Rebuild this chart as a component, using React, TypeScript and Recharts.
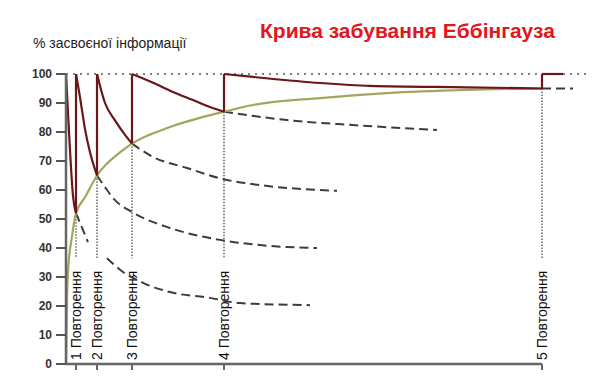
import { LineChart, Line, XAxis, YAxis, ReferenceLine } from "recharts";

type Pt = { x: number; y: number | null };

// x = умовний час, y = % засвоєної інформації
const REPS = [10, 31, 66, 158, 476];
const REP_LEVELS = [52, 65, 76, 87, 95];
const REP_LABELS = ["1 Повторення", "2 Повторення", "3 Повторення", "4 Повторення", "5 Повторення"];
const Y_TICKS = [0, 10, 20, 30, 40, 50, 60, 70, 80, 90, 100];
const LABEL_FLOOR = 36.5;

// зелена крива — накопичене запам'ятовування
const RETAINED: Pt[] = [
  { x: 0, y: 0 }, { x: 1, y: 22 }, { x: 2, y: 32 }, { x: 6, y: 44 }, { x: 10, y: 52 },
  { x: 19, y: 57.5 }, { x: 31, y: 65 }, { x: 56, y: 73.5 }, { x: 66, y: 76 },
  { x: 104, y: 81.7 }, { x: 158, y: 87 }, { x: 187, y: 89.3 }, { x: 254, y: 91.7 },
  { x: 321, y: 93.4 }, { x: 401, y: 94.5 }, { x: 476, y: 95 },
];

// червона крива — забування між повтореннями
const DECAY_0: Pt[] = [{ x: 0, y: 100 }, { x: 3, y: 80 }, { x: 7, y: 58 }, { x: 10, y: 52 }];
const DECAY_1: Pt[] = [{ x: 10, y: 100 }, { x: 14, y: 92 }, { x: 19, y: 81 }, { x: 24, y: 73 }, { x: 31, y: 65 }];
const DECAY_2: Pt[] = [{ x: 31, y: 100 }, { x: 39, y: 90 }, { x: 49, y: 84 }, { x: 59, y: 79 }, { x: 66, y: 76 }];
const DECAY_3: Pt[] = [{ x: 66, y: 100 }, { x: 87, y: 97 }, { x: 107, y: 93.8 }, { x: 127, y: 91 }, { x: 144, y: 88.6 }, { x: 158, y: 87 }];
const DECAY_4: Pt[] = [{ x: 158, y: 100 }, { x: 187, y: 99 }, { x: 254, y: 96.9 }, { x: 304, y: 95.9 }, { x: 401, y: 95.4 }, { x: 476, y: 95 }];
const DECAY_5: Pt[] = [{ x: 476, y: 100 }, { x: 497, y: 100 }];
const JUMPS: Pt[] = [
  { x: 10, y: 52 }, { x: 10, y: 100 }, { x: 20, y: null },
  { x: 31, y: 65 }, { x: 31, y: 100 }, { x: 40, y: null },
  { x: 66, y: 76 }, { x: 66, y: 100 }, { x: 80, y: null },
  { x: 158, y: 87 }, { x: 158, y: 100 }, { x: 200, y: null },
  { x: 476, y: 95 }, { x: 476, y: 100 },
];

// пунктир — забування без повторення
const FORGET_1: Pt[] = [
  { x: 10, y: 52 }, { x: 16, y: 47 }, { x: 22, y: 42 }, { x: 30, y: null },
  { x: 41, y: 36.5 }, { x: 56, y: 32 }, { x: 77, y: 28 }, { x: 104, y: 24.8 },
  { x: 144, y: 22.8 }, { x: 174, y: 21 }, { x: 244, y: 20.3 },
];
const FORGET_2: Pt[] = [
  { x: 31, y: 65 }, { x: 40, y: 60.5 }, { x: 49, y: 56.5 }, { x: 66, y: 52.4 },
  { x: 104, y: 46.9 }, { x: 154, y: 42.8 }, { x: 194, y: 41 }, { x: 251, y: 40 },
];
const FORGET_3: Pt[] = [
  { x: 66, y: 76 }, { x: 87, y: 71.4 }, { x: 121, y: 67.6 }, { x: 154, y: 64 },
  { x: 194, y: 61.7 }, { x: 271, y: 59.7 },
];
const FORGET_4: Pt[] = [{ x: 158, y: 87 }, { x: 221, y: 84.1 }, { x: 287, y: 82.4 }, { x: 371, y: 80.7 }];
const FORGET_5: Pt[] = [{ x: 476, y: 95 }, { x: 507, y: 95 }];

const DECAYS = [DECAY_0, DECAY_1, DECAY_2, DECAY_3, DECAY_4, DECAY_5];
const FORGETS = [FORGET_1, FORGET_2, FORGET_3, FORGET_4, FORGET_5];

const RED = "#6b1618";
const GREEN = "#a4a55c";
const DASH = "#3c3c3c";
const FONT = "'Liberation Sans', Arial, sans-serif";

const RepLabel = (text: string) => (props: any) => {
  const vb = props.viewBox || {};
  const cx = vb.x;
  const y0 = 360;
  return (
    <text
      x={cx}
      y={y0}
      dy="0.36em"
      transform={`rotate(-90 ${cx} ${y0})`}
      fontSize={14}
      fontFamily={FONT}
      fill="#111"
    >
      {text}
    </text>
  );
};

export default function App() {
  return (
    <div style={{ position: "absolute", left: 0, top: 0, width: 613, height: 376, background: "#fff", fontFamily: FONT }}>
      <LineChart width={613} height={376} margin={{ top: 74, right: 27, bottom: 0, left: 0 }}>
        <XAxis
          type="number"
          dataKey="x"
          domain={[0, 520]}
          ticks={REPS}
          tickFormatter={() => ""}
          axisLine={false}
          tickLine={{ stroke: "#666", strokeWidth: 2 }}
          tickSize={6}
          height={12}
          allowDataOverflow
        />
        <YAxis
          type="number"
          dataKey="y"
          domain={[0, 100]}
          ticks={Y_TICKS}
          width={66}
          tickSize={10}
          tickMargin={4}
          axisLine={{ stroke: "#666", strokeWidth: 2.5 }}
          tickLine={{ stroke: "#555", strokeWidth: 2 }}
          tick={{ fontSize: 12, fontWeight: 700, fill: "#333", fontFamily: FONT }}
          interval={0}
        />
        <ReferenceLine
          segment={[{ x: 0, y: 100 }, { x: 520, y: 100 }]}
          stroke="#555"
          strokeWidth={1.5}
          strokeDasharray="2 5"
          ifOverflow="visible"
        />
        <ReferenceLine
          segment={[{ x: 0, y: 0 }, { x: REPS[REPS.length - 1], y: 0 }]}
          stroke="#666"
          strokeWidth={2.5}
          ifOverflow="visible"
        />
        {REPS.map((r, i) => (
          <ReferenceLine
            key={"rep" + i}
            segment={[{ x: r, y: REP_LEVELS[i] }, { x: r, y: LABEL_FLOOR }]}
            stroke="#666"
            strokeWidth={1.5}
            strokeDasharray="1.5 1.5"
            ifOverflow="visible"
            label={RepLabel(REP_LABELS[i])}
          />
        ))}
        {FORGETS.map((d, i) => (
          <Line
            key={"f" + i}
            data={d}
            dataKey="y"
            type="monotone"
            stroke={DASH}
            strokeWidth={2}
            strokeDasharray="9 5"
            dot={false}
            activeDot={false}
            isAnimationActive={false}
          />
        ))}
        <Line
          data={RETAINED}
          dataKey="y"
          type="monotone"
          stroke={GREEN}
          strokeWidth={2.2}
          dot={false}
          activeDot={false}
          isAnimationActive={false}
        />
        {DECAYS.map((d, i) => (
          <Line
            key={"d" + i}
            data={d}
            dataKey="y"
            type="monotone"
            stroke={RED}
            strokeWidth={2.2}
            dot={false}
            activeDot={false}
            isAnimationActive={false}
          />
        ))}
        <Line
          data={JUMPS}
          dataKey="y"
          type="linear"
          stroke={RED}
          strokeWidth={2.2}
          dot={false}
          activeDot={false}
          isAnimationActive={false}
        />
      </LineChart>
      <svg width={613} height={376} style={{ position: "absolute", left: 0, top: 0, pointerEvents: "none" }}>
        <text x={260} y={38} fontSize={21} fontWeight={700} fill="#e2161d" fontFamily={FONT}>
          Крива забування Еббінгауза
        </text>
        <text x={33} y={48} fontSize={14} fill="#222" fontFamily={FONT}>
          % засвоєної інформації
        </text>
      </svg>
    </div>
  );
}
